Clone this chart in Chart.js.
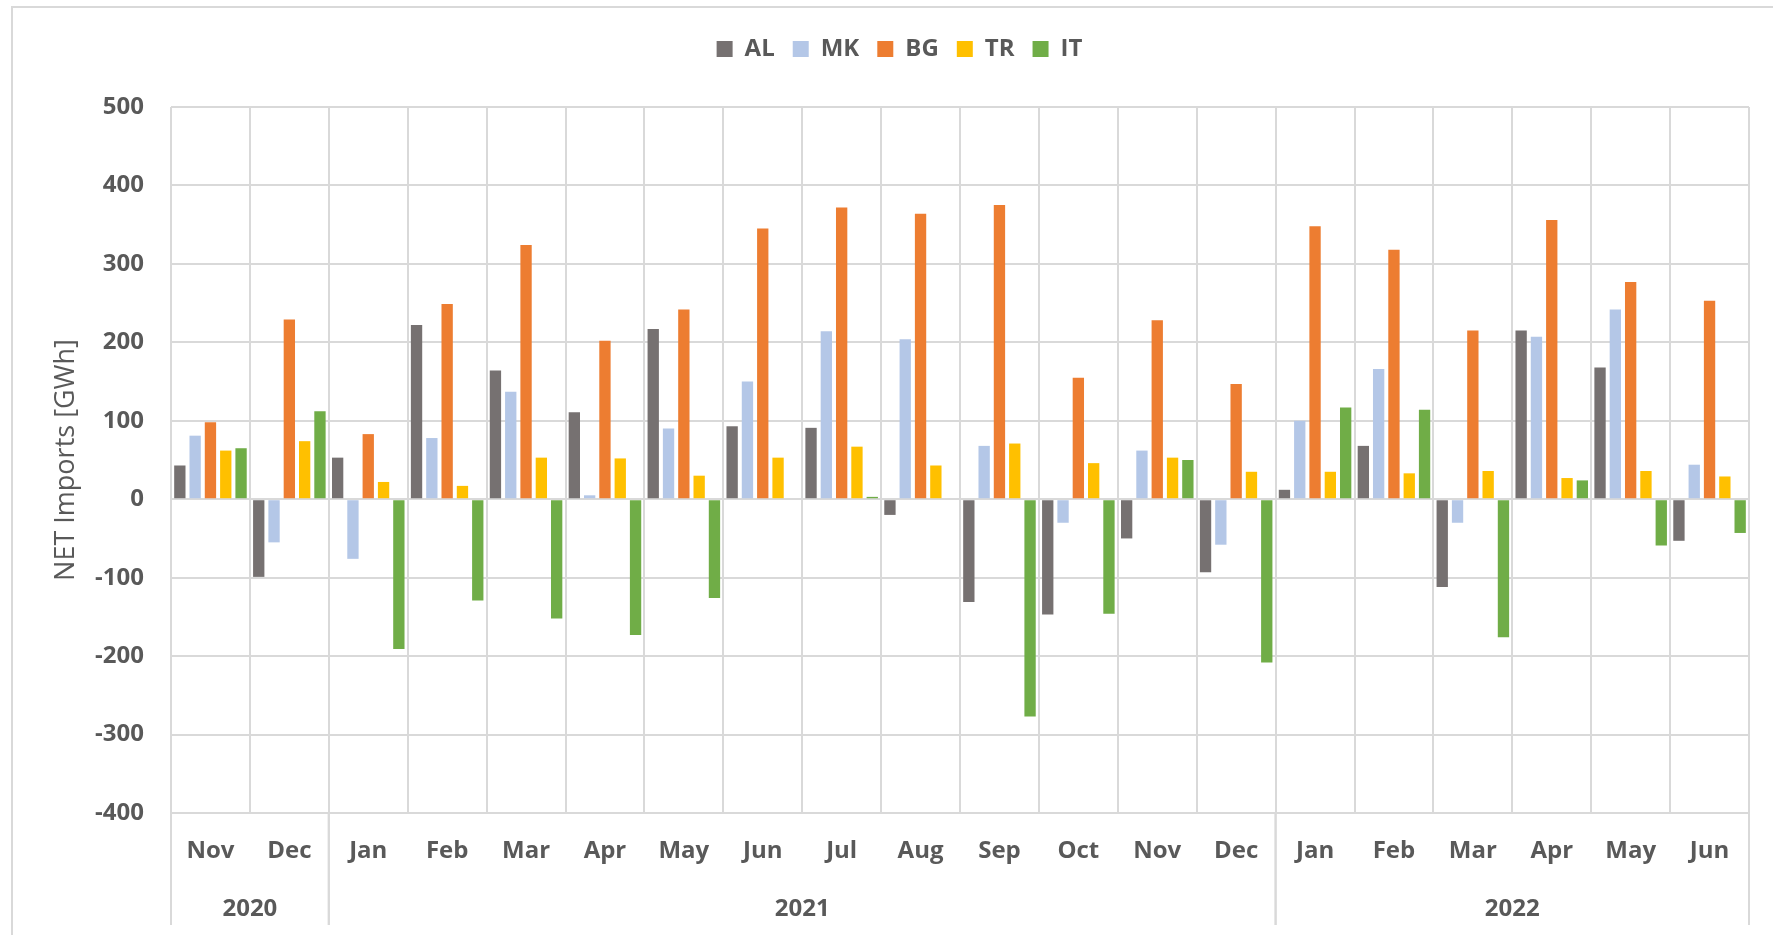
<!DOCTYPE html>
<html>
<head>
<meta charset="utf-8">
<script src="https://cdn.jsdelivr.net/npm/chart.js@4/dist/chart.umd.min.js"></script>
<style>
  html, body { margin: 0; padding: 0; background: #fff; }
  #wrap { width: 1773px; height: 935px; position: relative; }
</style>
</head>
<body>
<div id="wrap"><canvas id="chart" width="1773" height="935"></canvas></div>
<script>
// months along the x axis, years under them
const months = ["Nov", "Dec", "Jan", "Feb", "Mar", "Apr", "May", "Jun", "Jul", "Aug", "Sep", "Oct", "Nov", "Dec",
                "Jan", "Feb", "Mar", "Apr", "May", "Jun"];
const years = ["2020", "2021", "2022"];
const yearSpans = [2, 12, 6];

// net imports per country [GWh]
const AL = [43, -99, 53, 222, 164, 111, 217, 93, 91, -20, -131, -147, -50, -93, 12, 68, -112, 215, 168, -53];
const MK = [81, -55, -76, 78, 137, 5, 90, 150, 214, 204, 68, -30, 62, -58, 100, 166, -30, 207, 242, 44];
const BG = [98, 229, 83, 249, 324, 202, 242, 345, 372, 364, 375, 155, 228, 147, 348, 318, 215, 356, 277, 253];
const TR = [62, 74, 22, 17, 53, 52, 30, 53, 67, 43, 71, 46, 53, 35, 35, 33, 36, 27, 36, 29];
const IT = [65, 112, -191, -129, -152, -173, -126, 0, 3, 0, -277, -146, 50, -208, 117, 114, -176, 24, -59, -43];

const yTicks = [-400, -300, -200, -100, 0, 100, 200, 300, 400, 500];

const textColor = "#595959";
const gridColor = "#d9d9d9";
const font = "'Open Sans', 'DejaVu Sans', sans-serif";

// outer frame + year row under the months
const frameAndYears = {
    id: "frameAndYears",
    beforeInit(chart) {
        const fit = chart.legend.fit;
        chart.legend.fit = function () {
            fit.call(this);
            this.height = 88;
        };
    },
    beforeDraw(chart) {
        const c = chart.ctx;
        c.save();
        c.strokeStyle = gridColor;
        c.lineWidth = 2;
        c.strokeRect(12, 7, 3000, 3000);
        c.restore();
    },
    afterDraw(chart) {
        const c = chart.ctx;
        const xs = chart.scales.x;
        const area = chart.chartArea;
        const step = xs.getPixelForValue(1) - xs.getPixelForValue(0);
        c.save();
        c.strokeStyle = gridColor;
        c.lineWidth = 2;
        c.fillStyle = textColor;
        c.font = "bold 24px " + font;
        c.textAlign = "center";
        c.textBaseline = "middle";
        let start = 0;
        years.forEach((y, i) => {
            const x0 = xs.getPixelForValue(start) - step / 2;
            const x1 = xs.getPixelForValue(start + yearSpans[i] - 1) + step / 2;
            c.beginPath();
            c.moveTo(x0, area.bottom);
            c.lineTo(x0, 925);
            c.moveTo(x1, area.bottom);
            c.lineTo(x1, 925);
            c.stroke();
            c.fillText(y, (x0 + x1) / 2, 909);
            start += yearSpans[i];
        });
        c.restore();
    }
};

const ctx = document.getElementById("chart").getContext("2d");
const chart = new Chart(ctx, {
    type: "bar",
    data: {
        labels: months,
        datasets: [
            { label: "AL", data: AL, backgroundColor: "#767171" },
            { label: "MK", data: MK, backgroundColor: "#b4c7e7" },
            { label: "BG", data: BG, backgroundColor: "#ed7d31" },
            { label: "TR", data: TR, backgroundColor: "#ffc000" },
            { label: "IT", data: IT, backgroundColor: "#70ad47" },
        ],
    },
    options: {
        responsive: false,
        animation: false,
        devicePixelRatio: 1,
        datasets: {
            bar: { categoryPercentage: 0.97, barPercentage: 0.74 }
        },
        layout: { padding: { top: 19, right: 24, bottom: 0, left: 50 } },
        plugins: {
            tooltip: { enabled: false },
            legend: {
                position: "top",
                labels: {
                    boxWidth: 16,
                    boxHeight: 16,
                    padding: 18,
                    color: textColor,
                    font: { family: font, size: 24, weight: "bold" },
                },
            },
        },
        scales: {
            x: {
                grid: { color: gridColor, lineWidth: 2, drawTicks: false, offset: true },
                border: { display: false },
                ticks: {
                    color: textColor,
                    padding: 24,
                    maxRotation: 0,
                    autoSkip: false,
                    font: { family: font, size: 24, weight: "bold" },
                },
                afterFit(scale) { scale.height = 122; },
            },
            y: {
                min: -400,
                max: 500,
                afterBuildTicks(scale) { scale.ticks = yTicks.map(v => ({ value: v })); },
                grid: { color: gridColor, lineWidth: 2, drawTicks: false },
                border: { display: false },
                ticks: {
                    color: textColor,
                    padding: 27,
                    font: { family: font, size: 24, weight: "bold" },
                },
                title: {
                    display: true,
                    text: "NET Imports [GWh]",
                    color: textColor,
                    padding: { top: 0, bottom: 0 },
                    font: { family: font, size: 27, weight: "400" },
                },
                afterFit(scale) { scale.width = 121; },
            },
        },
    },
    plugins: [frameAndYears],
});
</script>
</body>
</html>
